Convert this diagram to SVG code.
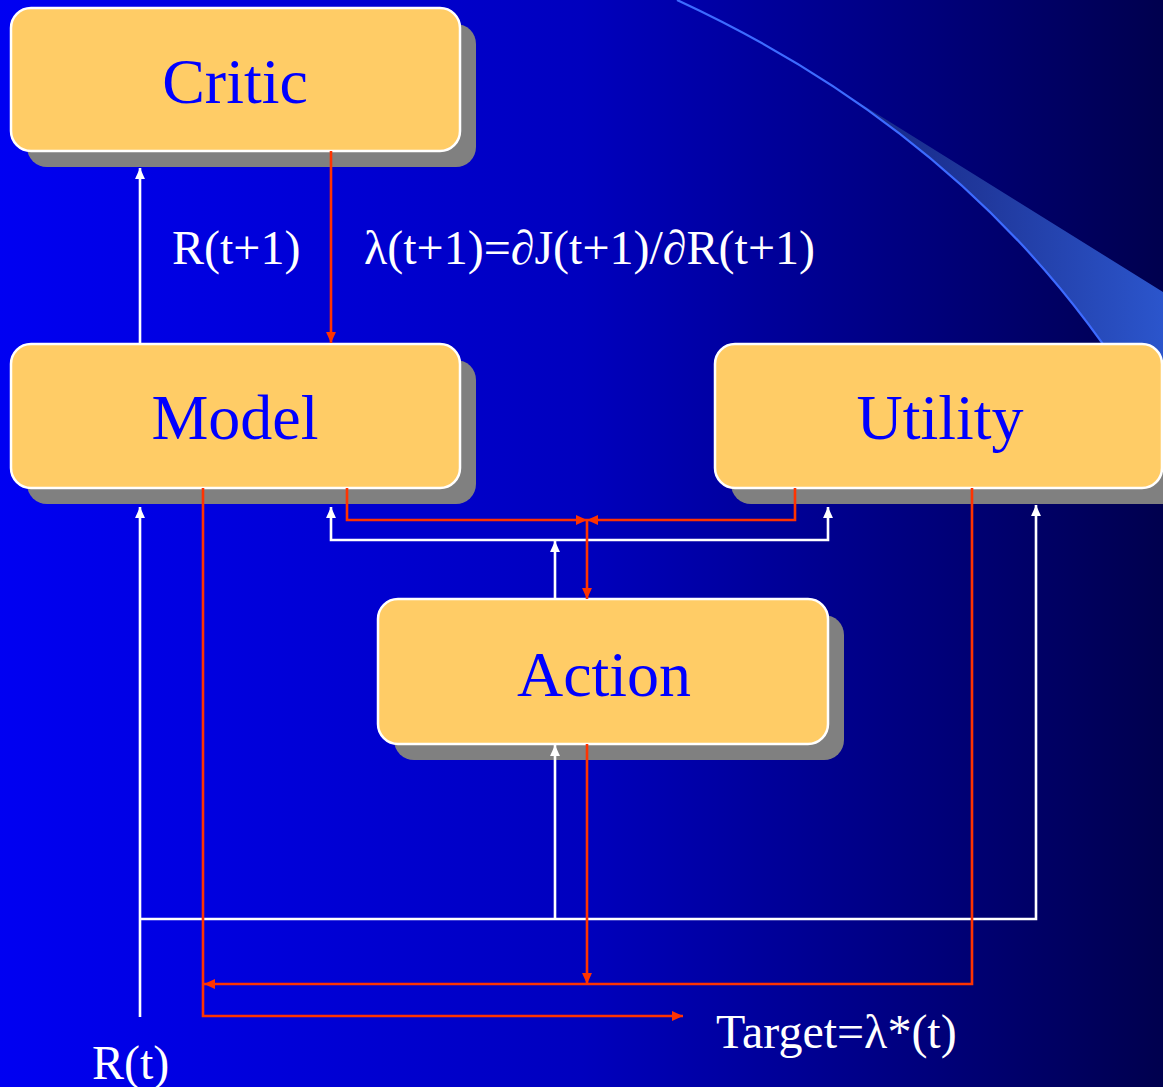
<svg xmlns="http://www.w3.org/2000/svg" width="1163" height="1087" viewBox="0 0 1163 1087">
<defs>
<linearGradient id="bg" x1="0" y1="0" x2="1" y2="0">
<stop offset="0" stop-color="#0000F2"/>
<stop offset="0.5" stop-color="#0000BE"/>
<stop offset="1" stop-color="#00004E"/>
</linearGradient>
<linearGradient id="wedge" gradientUnits="userSpaceOnUse" x1="800" y1="0" x2="1163" y2="0">
<stop offset="0" stop-color="#102080"/>
<stop offset="0.5" stop-color="#20389C"/>
<stop offset="1" stop-color="#2B55CC"/>
</linearGradient>
<marker id="ar" viewBox="0 0 10 9" refX="10" refY="4.5" markerWidth="11" markerHeight="10" markerUnits="userSpaceOnUse" orient="auto">
<path d="M0,0 L10,4.5 L0,9 Z" fill="#FF3300"/>
</marker>
<marker id="aw" viewBox="0 0 10 9" refX="10" refY="4.5" markerWidth="11" markerHeight="10" markerUnits="userSpaceOnUse" orient="auto">
<path d="M0,0 L10,4.5 L0,9 Z" fill="#FFFFFF"/>
</marker>
</defs>
<style>
.shadow{fill:#808080}
.box{fill:#FFCC66;stroke:#FFFFFF;stroke-width:2.5}
.ntext{font-family:"Liberation Serif","Times New Roman",serif;font-size:64px;fill:#0000FF;text-anchor:middle}
.lbl{font-family:"Liberation Serif","Times New Roman",serif;font-size:48px;fill:#FFFFFF}
.red{fill:none;stroke:#FF3300;stroke-width:2.6;marker-end:url(#ar)}
.wht{fill:none;stroke:#FFFFFF;stroke-width:2.6}
.wa{marker-end:url(#aw)}
</style>
<rect width="1163" height="1087" fill="url(#bg)"/>
<g id="decor">
<path d="M792,61 L1163,292 L1163,440 L1140,400 Q1012,192 792,61 Z" fill="url(#wedge)"/>
<path d="M677,0 Q980,140 1140,400" fill="none" stroke="#3D6BFF" stroke-width="2.2"/>
</g>
<g id="critic">
<rect class="shadow" x="27" y="24" width="449" height="143" rx="20"/>
<rect class="box" x="11" y="8" width="449" height="143" rx="20"/>
<text class="ntext" x="235" y="103">Critic</text>
</g>
<g id="model">
<rect class="shadow" x="27" y="360" width="449" height="144" rx="20"/>
<rect class="box" x="11" y="344" width="449" height="144" rx="20"/>
<text class="ntext" x="235" y="439">Model</text>
</g>
<g id="utility">
<rect class="shadow" x="731" y="360" width="460" height="144" rx="20"/>
<rect class="box" x="715" y="344" width="447" height="144" rx="20"/>
<text class="ntext" x="940" y="439">Utility</text>
</g>
<g id="action">
<rect class="shadow" x="394" y="615" width="450" height="145" rx="20"/>
<rect class="box" x="378" y="599" width="450" height="145" rx="20"/>
<text class="ntext" x="604" y="696">Action</text>
</g>
<g id="connectors">
<path class="wht wa" d="M140,343 V168"/>
<path class="wht wa" d="M140,1017 V507"/>
<path class="wht wa" d="M140,919 H1036 V505"/>
<path class="wht wa" d="M555,919 V745"/>
<path class="wht wa" d="M555,540 H331 V507"/>
<path class="wht wa" d="M555,540 H828 V507"/>
<path class="wht wa" d="M555,599 V541"/>
<path class="red" d="M331,151 V343"/>
<path class="red" d="M347,488 V520 H587"/>
<path class="red" d="M795,488 V520 H587"/>
<path class="red" d="M587,520 V599"/>
<path class="red" d="M587,744 V984"/>
<path class="red" d="M972,488 V984 H204"/>
<path class="red" d="M203,488 V1016 H683"/>
</g>
<g id="labels">
<text class="lbl" x="172" y="264">R(t+1)</text>
<text class="lbl" x="364" y="264">λ(t+1)=∂J(t+1)/∂R(t+1)</text>
<text class="lbl" x="716" y="1048">Target=λ*(t)</text>
<text class="lbl" x="92" y="1079">R(t)</text>
</g>
</svg>
